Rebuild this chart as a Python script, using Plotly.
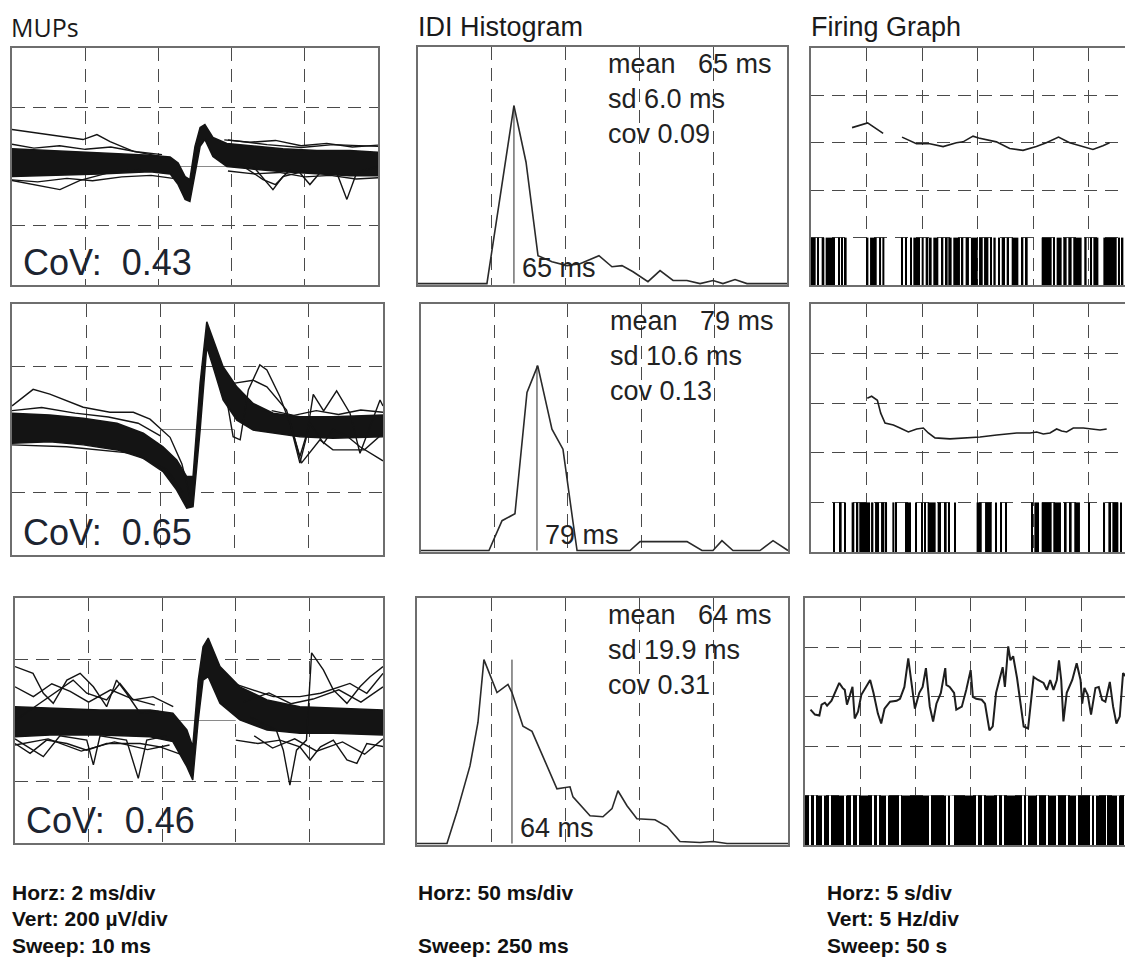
import plotly.graph_objects as go

W, H = 1133, 970

# ================= MUPs  (x: ms, y: µV) =================
# dense band envelope (upper / lower) + individual outlier traces
mup1_x = [0, 1.04, 2.4, 3.77, 4.32, 4.54, 4.73, 4.86, 5.0, 5.14, 5.27, 5.49, 5.87, 6.5, 7.4, 8.33, 9.23, 10]
mup1_upper = [60, 54, 48, 38, 32, 12, -34, -44, 68, 132, 142, 98, 78, 70, 60, 54, 54, 48]
mup1_lower = [-34, -31, -25, -18, -25, -61, -111, -118, -20, 68, 91, 34, 0, -8, -18, -25, -31, -31]
mup1_out = [
    ([0, 1.04, 1.94, 2.32, 2.68, 3.32, 4.23], [125, 108, 91, 108, 84, 51, 30]),
    ([0, 0.58, 1.31, 1.86, 2.68, 3.5], [-47, -61, -78, -47, -20, -10]),
    ([6.59, 7.13, 7.4, 7.86, 8.14, 8.42, 8.87, 9.15, 9.42, 10], [0, -78, -34, -20, -61, -20, -20, -111, -20, 0]),
    ([5.9, 6.97, 7.9, 8.77, 10], [90, 74, 64, 74, 68]),
    ([6.2, 6.86, 7.2, 7.6], [10, -44, -61, -10]),
    ([0, 0.6, 1.3, 2.0, 2.7, 3.4, 4.1], [75, 62, 70, 58, 66, 50, 40]),
    ([0, 0.7, 1.5, 2.2, 3.0, 3.8, 4.4], [-45, -52, -40, -48, -35, -30, -40]),
    ([5.8, 6.5, 7.2, 7.9, 8.6, 9.3, 10], [90, 82, 88, 70, 78, 66, 72]),
    ([5.9, 6.6, 7.3, 8.0, 8.7, 9.4, 10], [-15, -25, -20, -35, -30, -42, -38]),
]

mup2_x = [0, 1.02, 1.92, 2.83, 3.54, 4.07, 4.44, 4.71, 4.88, 5.07, 5.25, 5.42, 5.69, 6.06, 6.5, 7.04, 7.76, 8.65, 10]
mup2_upper = [52, 46, 36, 20, -12, -55, -97, -150, -150, 147, 343, 285, 200, 136, 83, 52, 41, 41, 46]
mup2_lower = [-44, -39, -49, -65, -92, -134, -193, -251, -246, -2, 264, 200, 94, 30, -2, -12, -23, -28, -23]
mup2_out = [
    ([0, 0.57, 1.02, 1.92, 2.64, 3.27, 3.72, 4.26, 4.58, 4.8], [75, 128, 113, 71, 55, 55, 33, -25, -110, -216]),
    ([0, 1.47, 3.27, 4.18, 4.6], [-49, -55, -76, -129, -200]),
    ([5.79, 5.96, 6.15, 6.37, 6.68, 6.87, 7.22, 7.49, 7.76, 7.94, 8.12, 8.4, 8.75, 9.11, 9.38, 9.65, 9.92, 10],
     [94, -23, -33, 126, 206, 190, 105, 20, -107, -23, 112, 59, 123, 52, -76, 9, 94, 75]),
    ([5.96, 6.5, 6.87, 7.4, 7.76, 8.03, 8.4, 8.65, 9.02, 9.38, 10], [147, 157, 136, 62, -86, 20, -44, 0, -20, -55, -100]),
    ([7.5, 7.8, 8.3, 8.65, 9.5, 10], [20, -107, -33, -65, -65, -12]),
    ([0, 0.8, 1.7, 2.6, 3.4, 4.0], [60, 70, 52, 40, 20, -20]),
    ([7.0, 7.6, 8.2, 8.8, 9.4, 10], [60, 45, 60, 48, 62, 55]),
]

mup3_x = [0, 0.95, 2.31, 3.67, 4.29, 4.67, 4.83, 4.98, 5.11, 5.25, 5.57, 6.11, 6.85, 7.74, 8.64, 10]
mup3_upper = [45, 40, 34, 34, 24, -31, -86, 132, 241, 269, 176, 110, 67, 45, 40, 34]
mup3_lower = [-53, -47, -47, -53, -69, -151, -194, 2, 132, 143, 56, 2, -31, -42, -42, -47]
mup3_out = [
    ([0, 0.49, 0.77, 1.04, 1.41, 1.77, 2.13, 2.49, 2.76, 3.03, 3.4, 3.9], [176, 154, 89, 56, 132, 154, 110, 45, 132, 89, 24, 30]),
    ([0, 0.77, 1.22, 1.95, 2.13, 2.31, 3.03, 3.35, 3.58, 4.13], [-60, -118, -50, -64, -145, -50, -64, -189, -64, -50]),
    ([6.4, 7.1, 7.29, 7.47, 7.65, 7.92, 8.06, 8.38, 8.65, 9.02, 9.38, 9.65, 10], [10, -31, -97, -211, -97, -64, 221, 165, 100, 56, 111, 143, 176]),
    ([6.0, 6.6, 7.2, 7.74, 8.02, 8.3, 8.65, 9.02, 9.29, 9.56, 10], [-64, -75, -64, -86, -129, -86, -64, -129, -140, -75, -85]),
    ([5.93, 6.48, 7.02, 7.74, 8.3, 9.1, 9.56, 10], [121, 100, 78, 78, 89, 121, 89, 154]),
    ([0, 1.22, 1.58, 1.95, 2.49, 2.85, 3.21, 3.75, 4.3], [0, 100, 132, 89, 67, 121, 67, 78, 45]),
    ([0, 0.41, 0.86, 1.41, 1.95, 2.49, 3.4, 3.94, 4.49], [-75, -107, -64, -75, -97, -75, -75, -86, -110]),
    ([0, 0.5, 1.0, 1.5, 2.0, 2.6, 3.2, 3.8], [110, 78, 120, 95, 60, 100, 70, 50]),
    ([0, 0.9, 1.8, 2.7, 3.6, 4.2], [-80, -60, -100, -70, -95, -80]),
    ([6.2, 6.9, 7.5, 8.1, 8.8, 9.4, 10], [60, 90, 55, 70, 100, 60, 110]),
    ([6.5, 7.0, 7.6, 8.2, 8.9, 9.5, 10], [-50, -90, -60, -100, -70, -110, -60]),
]
mup_cov = ["0.43", "0.65", "0.46"]

# ================= IDI histograms (x: ms, y: relative count) =================
idi1_ms = [0, 46.7, 65, 73.2, 81.3, 90.8, 100.9, 109.8, 122.6, 131.4, 138.2, 145.7, 155.8, 164.0, 172.8, 182.2, 191.1, 199.9, 206.6, 214.8, 222.9, 250]
idi1_val = [0, 0, 75.2, 51.3, 11.8, 9.2, 7.6, 8.4, 11.8, 7.1, 7.6, 5.0, 0.8, 5.5, 1.3, 1.3, 0, 1.3, 0, 1.7, 0, 0]
idi2_ms = [0, 46.3, 55.2, 64.0, 72.2, 79.5, 89.2, 96.7, 103.5, 106.3, 142.4, 149.2, 181.2, 191.4, 198.9, 205.0, 212.5, 230.9, 239.8, 249.3, 250]
idi2_val = [0, 0, 12.1, 14.9, 64.1, 75.0, 49.2, 41.1, 11.7, 0, 0, 3.6, 3.6, 0, 0, 4.0, 0, 0, 4.0, 0, 0]
idi3_ms = [0, 20.2, 27.0, 35.7, 41.1, 45.1, 53.9, 61.3, 64.0, 71.4, 77.5, 84.9, 94.3, 103.1, 105.1, 116.6, 125.3, 131.4, 135.4, 141.5, 148.2, 160.4, 168.5, 177.2, 190.7, 199.5, 208.9, 250]
idi3_val = [0, 0, 13.0, 31.6, 49.4, 74.9, 61.5, 64.8, 61.5, 47.8, 45.7, 35.6, 22.3, 23.1, 19.0, 11.3, 10.9, 14.2, 21.5, 15.4, 10.1, 9.7, 6.9, 0.8, 0.4, 0.8, 0, 0]
idi_mean = [65, 79, 64]
idi_sd = ["6.0", "10.6", "19.9"]
idi_cov = ["0.09", "0.13", "0.31"]

# ================= Firing graphs (x: s, y: Hz) =================
fg1_t = [3.7, 5.1, 6.5, None, 8.2, 9.5, 10.7, 11.9, 13.1, 13.7, 14.6, 15.1, 16.7, 17.9, 19.1, 20.3, 21.2, 22.3, 23.3, 24.5, 25.4, 26.3, 26.9]
fg1_hz = [16.6, 17.1, 16.0, None, 15.6, 14.9, 14.9, 14.6, 15.0, 15.1, 15.7, 15.5, 15.1, 14.4, 14.2, 14.6, 15.0, 15.6, 15.0, 14.6, 14.3, 14.7, 15.0]
fg2_t = [5.07, 5.46, 5.98, 6.28, 6.67, 7.42, 8.02, 8.77, 9.52, 10.12, 10.57, 11.17, 12.52, 14.02, 15.23, 16.73, 18.53, 19.73, 20.33, 20.93, 21.53, 22.13, 22.58, 23.03, 23.63, 24.53, 25.43, 26.04, 26.64]
fg2_hz = [15.5, 15.7, 15.3, 14.0, 13.0, 12.8, 12.5, 12.1, 12.4, 12.5, 12.0, 11.5, 11.4, 11.5, 11.6, 11.8, 12.0, 12.0, 12.1, 11.9, 12.0, 12.4, 12.2, 12.1, 12.5, 12.5, 12.4, 12.3, 12.4]
fg3_t = [0.5, 0.9, 1.3, 1.5, 1.8, 2.0, 2.4, 2.9, 3.1, 3.4, 3.6, 3.8, 4.1, 4.3, 4.5, 4.8, 5.1, 5.6, 5.9, 6.2, 6.6, 6.9, 7.2, 7.7,
         8.3, 8.6, 9.0, 9.35, 9.6, 9.95, 10.35, 10.65, 10.95, 11.1, 11.3, 11.6, 11.9, 12.3, 12.7, 12.8, 13.1, 13.5, 13.7,
         14.2, 14.6, 15.0, 15.2, 15.5, 16.0, 16.3, 16.7, 17.0, 17.3, 17.6, 17.9, 18.1, 18.4, 18.6, 18.85, 19.2, 19.5,
         19.8, 20.2, 20.7, 21.1, 21.6, 21.9, 22.2, 22.5, 22.8, 23.0, 23.2, 23.4, 23.7, 24.2, 24.6, 24.95, 25.1, 25.3,
         25.6, 25.9, 26.3, 26.6, 26.9, 27.2, 27.6, 27.9, 28.2, 28.5, 28.8, 29.1, 29.4, 29.7]
fg3_hz = [13.7, 13.2, 13.1, 14.2, 14.4, 14.1, 14.6, 15.9, 16.4, 15.9, 15.7, 14.2, 15.4, 16.0, 12.8, 13.5, 15.2, 16.2, 16.7, 15.4, 13.3, 12.3, 13.8, 14.5,
          14.6, 14.8, 16.0, 18.9, 16.7, 13.8, 15.4, 16.0, 17.9, 16.0, 14.0, 12.5, 14.3, 15.4, 17.9, 16.2, 16.0, 15.4, 13.7,
          14.0, 15.7, 17.7, 15.0, 14.8, 14.7, 14.3, 11.6, 12.0, 15.4, 16.7, 18.0, 16.0, 20.1, 18.7, 19.1, 16.9, 14.3,
          12.0, 11.8, 17.0, 16.7, 16.4, 15.7, 16.7, 15.7, 16.7, 18.7, 16.7, 12.5, 15.4, 16.7, 18.4, 16.7, 14.3, 15.9,
          15.2, 13.2, 15.9, 16.0, 14.7, 14.5, 16.5, 14.0, 12.3, 13.0, 17.4, 17.0, 15.2, 15.0]

# spike raster (discharge bands, seconds)
r1_start = [0.0, 0.60, 0.96, 1.32, 2.46, 2.76, 3.06, 5.02, 5.32, 6.13, 6.43, 8.11, 8.47, 8.92, 9.22, 9.97, 10.33, 10.72, 11.02, 11.71, 12.07, 12.37, 12.82, 13.57, 13.93, 14.41, 15.14, 15.59, 16.13, 16.43, 16.88, 17.18, 17.63, 18.08, 18.92, 19.28, 20.78, 21.83, 22.13, 22.73, 23.18, 23.63, 24.62, 25.14, 25.44, 26.34, 27.69, 27.99]
r1_end = [0.42, 0.72, 1.20, 2.16, 2.58, 2.88, 3.21, 5.17, 5.92, 6.31, 6.61, 8.23, 8.62, 9.07, 9.82, 10.15, 10.57, 10.87, 11.47, 11.92, 12.31, 12.67, 13.42, 13.72, 14.23, 15.02, 15.47, 15.98, 16.28, 16.64, 17.03, 17.48, 17.84, 18.68, 19.13, 19.52, 21.68, 21.98, 22.58, 23.03, 23.48, 24.38, 24.83, 25.29, 25.89, 27.54, 27.84, 28.14]
r2_start = [2.01, 2.61, 3.00, 3.66, 4.11, 4.35, 5.41, 5.77, 6.31, 6.73, 7.33, 7.63, 8.47, 9.37, 9.91, 10.21, 10.51, 11.41, 12.07, 12.37, 12.91, 14.92, 15.68, 16.58, 17.03, 17.48, 19.82, 20.12, 20.78, 21.83, 22.88, 23.33, 23.72, 24.98, 26.34, 26.79, 27.15, 27.84]
r2_end = [2.16, 2.76, 3.12, 3.90, 4.26, 5.32, 5.62, 6.13, 6.61, 6.85, 7.51, 7.75, 9.01, 9.52, 10.03, 10.33, 11.23, 11.71, 12.22, 12.46, 13.03, 15.38, 16.28, 16.73, 17.18, 17.63, 19.94, 20.54, 21.68, 22.52, 23.03, 23.48, 24.23, 25.08, 26.49, 27.03, 27.69, 27.99]
r3_start = [0.0]
r3_end = [29.7]
r3_gaps = [0.45, 0.90, 1.66, 2.26, 3.62, 4.22, 4.83, 6.18, 6.64, 7.39, 8.60, 11.31, 12.82, 13.2, 13.42, 15.54, 16.14, 17.50, 17.95, 19.76, 20.12, 21.12, 21.87, 22.78, 23.68, 24.59, 25.94, 26.24, 27.30, 28.36, 28.96]
raster_top_hz = 5

titles = ["MUPs", "IDI Histogram", "Firing Graph"]
scale_lines = [["Horz: 2 ms/div", "Vert: 200 µV/div", "Sweep: 10 ms"],
               ["Horz: 50 ms/div", "", "Sweep: 250 ms"],
               ["Horz: 5 s/div", "Vert: 5 Hz/div", "Sweep: 50 s"]]

# ================= figure =================
fig = go.Figure()
OFF = 8  # page body margin of the viewer
FW, FH = W - OFF, H - OFF  # figure fits exactly inside the window

# panel boxes in window pixels (left, right, top, bottom)
boxes = {
    1: (12, 378, 48, 285), 2: (418, 787, 47, 285), 3: (811, 1133, 48, 285),
    4: (12, 383, 304, 555), 5: (421, 788, 304, 552), 6: (811, 1133, 304, 552),
    7: (15, 383, 598, 843), 8: (417, 788, 598, 845), 9: (805, 1133, 598, 845),
}
INK = "#141414"
GRID = "#4a4a4a"
BOX = "#6e6e6e"


def fx(px):
    return min(max((px - OFF) / FW, 0.0), 1.0)


def fy(py):
    return min(max(1 - (py - OFF) / FH, 0.0), 1.0)


def ax(n):
    return ("x" if n == 1 else f"x{n}"), ("y" if n == 1 else f"y{n}")


# MUP panels
for n, (xs, up, lo, outs) in zip([1, 4, 7], [(mup1_x, mup1_upper, mup1_lower, mup1_out),
                                              (mup2_x, mup2_upper, mup2_lower, mup2_out),
                                              (mup3_x, mup3_upper, mup3_lower, mup3_out)]):
    xa, ya = ax(n)
    fig.add_trace(go.Scatter(x=xs + xs[::-1], y=up + lo[::-1], fill="toself", fillcolor=INK,
                             mode="lines", line=dict(color=INK, width=1.5), xaxis=xa, yaxis=ya,
                             hoverinfo="skip", showlegend=False))
    for ox, oy in outs:
        fig.add_trace(go.Scatter(x=ox, y=oy, mode="lines", line=dict(color=INK, width=1.4),
                                 xaxis=xa, yaxis=ya, hoverinfo="skip", showlegend=False))

# IDI panels
for i, (n, xs, vs) in enumerate(zip([2, 5, 8], [idi1_ms, idi2_ms, idi3_ms], [idi1_val, idi2_val, idi3_val])):
    xa, ya = ax(n)
    fig.add_trace(go.Scatter(x=xs, y=vs, mode="lines", line=dict(color="#2a2a2a", width=1.6),
                             xaxis=xa, yaxis=ya, hoverinfo="skip", showlegend=False))
    fig.add_trace(go.Scatter(x=[idi_mean[i], idi_mean[i]], y=[0, max(vs)], mode="lines",
                             line=dict(color="#2a2a2a", width=1), xaxis=xa, yaxis=ya,
                             hoverinfo="skip", showlegend=False))

# Firing panels
for n, ts, hz, st, en in zip([3, 6, 9], [fg1_t, fg2_t, fg3_t], [fg1_hz, fg2_hz, fg3_hz],
                             [r1_start, r2_start, r3_start], [r1_end, r2_end, r3_end]):
    xa, ya = ax(n)
    fig.add_trace(go.Bar(x=[(a + b) / 2 for a, b in zip(st, en)], y=[raster_top_hz] * len(st),
                         width=[b - a for a, b in zip(st, en)], base=0,
                         marker=dict(color="black", line=dict(width=0)),
                         xaxis=xa, yaxis=ya, hoverinfo="skip", showlegend=False))
    if n == 9:
        fig.add_trace(go.Bar(x=r3_gaps, y=[raster_top_hz] * len(r3_gaps), width=0.09, base=0,
                             marker=dict(color="white", line=dict(width=0)),
                             xaxis=xa, yaxis=ya, hoverinfo="skip", showlegend=False))
    fig.add_trace(go.Scatter(x=ts, y=hz, mode="lines",
                             line=dict(color="#1e1e1e", width=2.0 if n == 9 else 1.6),
                             connectgaps=False, xaxis=xa, yaxis=ya, hoverinfo="skip", showlegend=False))

layout = dict(width=FW, height=FH, margin=dict(l=0, r=0, t=0, b=0), paper_bgcolor="white",
              plot_bgcolor="white", barmode="overlay", showlegend=False)

for n, (l, r, t, b) in boxes.items():
    col = (n - 1) % 3
    xname = "xaxis" if n == 1 else f"xaxis{n}"
    yname = "yaxis" if n == 1 else f"yaxis{n}"
    xa, ya = ax(n)
    common = dict(showticklabels=False, ticks="", zeroline=False, showline=True,
                  linecolor=BOX, linewidth=1.5, gridcolor=GRID, gridwidth=1.3, griddash="13px,8px",
                  fixedrange=True)
    xd = [fx(l), fx(r)]
    yd = [fy(b), fy(t)]
    if col == 0:
        layout[xname] = dict(domain=xd, range=[0, 10], tickvals=[2, 4, 6, 8], showgrid=True,
                             mirror=True, anchor=ya, **common)
        layout[yname] = dict(domain=yd, range=[-400, 400], tickvals=[-200, 200], showgrid=True,
                             mirror=True, anchor=xa, **common)
    elif col == 1:
        layout[xname] = dict(domain=xd, range=[0, 250], tickvals=[50, 100, 150, 200], showgrid=True,
                             mirror=True, anchor=ya, **common)
        layout[yname] = dict(domain=yd, range=[-0.6, 100], showgrid=False,
                             mirror=True, anchor=xa, **common)
    else:
        xmax = (r - l) / 11.1 if n != 9 else 29.7
        layout[xname] = dict(domain=xd, range=[0, xmax], tickvals=[5, 10, 15, 20, 25], showgrid=True,
                             mirror=True, anchor=ya, **common)
        layout[yname] = dict(domain=yd, range=[0, 25], tickvals=[5, 10, 15, 20], showgrid=True,
                             mirror=False, anchor=xa, **common)

fig.update_layout(**layout)

# MUP centre reference segments
for n in [1, 4, 7]:
    xa, ya = ax(n)
    fig.add_shape(type="line", xref=xa, yref=ya, x0=4, x1=6, y0=0, y1=0,
                  line=dict(color="#8a8a8a", width=1.2), layer="below")

ann = []
# CoV labels
for n, c in zip([1, 4, 7], mup_cov):
    xa, ya = ax(n)
    ann.append(dict(xref=f"{xa} domain", yref=f"{ya} domain", x=0.025, y=0.0, xanchor="left",
                    yanchor="bottom", showarrow=False, text=f"CoV:\u00a0\u00a0{c}",
                    font=dict(family="Liberation Sans, Arial", size=36, color="#1c2430")))
# IDI stats
for i, n in enumerate([2, 5, 8]):
    xa, ya = ax(n)
    ann.append(dict(xref=f"{xa} domain", yref=f"{ya} domain", x=0.51, y=1.0, xanchor="left",
                    yanchor="top", showarrow=False, align="left",
                    text=f"mean\u00a0\u00a0\u00a0{idi_mean[i]} ms<br>sd {idi_sd[i]} ms<br>cov {idi_cov[i]}",
                    font=dict(family="Liberation Sans, Arial", size=27, color="#222")))
    ann.append(dict(xref=xa, yref=f"{ya} domain", x=idi_mean[i] + 4, y=0.0, xanchor="left",
                    yanchor="bottom", showarrow=False, text=f"{idi_mean[i]} ms",
                    font=dict(family="Liberation Sans, Arial", size=27, color="#222")))
# column titles
for (px, fam, sz), t in zip([(9, "Open Sans", 25), (416, "Liberation Sans", 27),
                             (809, "Liberation Sans", 27)], titles):
    ann.append(dict(xref="paper", yref="paper", x=fx(px), y=fy(27), xanchor="left", yanchor="middle",
                    showarrow=False, text=t, font=dict(family=fam, size=sz, color="#1a1a1a")))
# scale legends
for px, lines in zip([10, 416, 825], scale_lines):
    for py, s in zip([892, 918, 945], lines):
        if s:
            ann.append(dict(xref="paper", yref="paper", x=fx(px), y=fy(py), xanchor="left",
                            yanchor="middle", showarrow=False, text=f"<b>{s}</b>",
                            font=dict(family="Liberation Sans", size=21, color="#111")))
fig.update_layout(annotations=ann)

fig.write_html("out.html")
